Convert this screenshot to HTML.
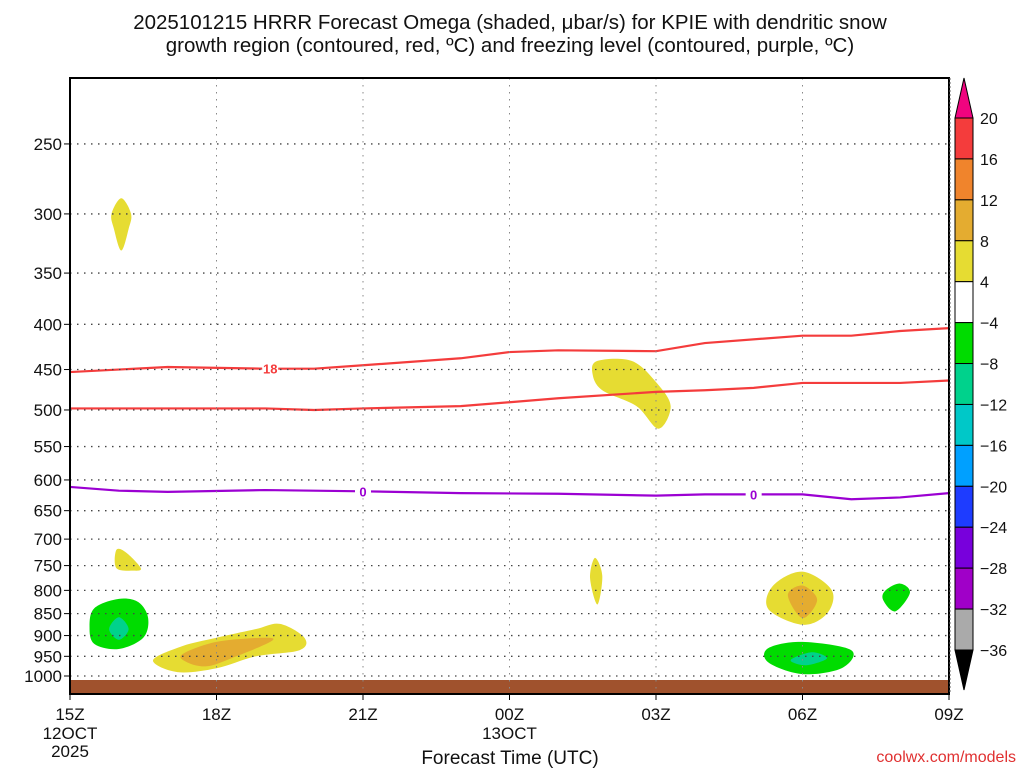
<!DOCTYPE html>
<html><head><meta charset="utf-8"><style>
body{margin:0;background:#fff;width:1024px;height:768px;overflow:hidden;font-family:"Liberation Sans","DejaVu Sans",sans-serif}
svg text{font-family:"Liberation Sans","DejaVu Sans",sans-serif;fill:#111}
</style></head><body>
<svg id="c" width="1024" height="768" xmlns="http://www.w3.org/2000/svg">
<text x="510" y="29" font-size="20.5" text-anchor="middle">2025101215 HRRR Forecast Omega (shaded, μbar/s) for KPIE with dendritic snow</text>
<text x="510" y="52" font-size="20.5" text-anchor="middle">growth region (contoured, red, ºC) and freezing level (contoured, purple, ºC)</text>
<text x="510" y="764" font-size="19" text-anchor="middle">Forecast Time (UTC)</text>
<text x="1016" y="762" font-size="16" text-anchor="end" style="fill:#e03030">coolwx.com/models</text>
<g id="plot"></g>
</svg>
<script>
const pTicks=[250,300,350,400,450,500,550,600,650,700,750,800,850,900,950,1000];
const xHours=[0,3,6,9,12,15,18];
const xLabels=["15Z","18Z","21Z","00Z","03Z","06Z","09Z"];
const cbLevels=[20,16,12,8,4,-4,-8,-12,-16,-20,-24,-28,-32,-36];
const cbColors=["#f43c3c","#f0842c","#e4ac30","#e6dc32","#ffffff","#00dc00","#00d28c","#00c8c8","#00a0ff","#1e3cff","#7800dc","#a000c8","#aaaaaa"];
const red1H=[0,2,4,5,6,8,9,10,12,13,15,16,17,18];
const red1P=[453,447,449,449,445,437,430,428,429,420,412,412,407,404];
const red2H=[0,2,4,5,6,8,9,10,12,13,14,15,17,18];
const red2P=[498,498,498,500,498,495,490,485,477,475,472,466,466,463];
const frzH=[0,1,2,4,6,8,10,12,13,15,16,17,18];
const frzP=[611,617,619,616,618,621,622,625,623,623,631,628,621];
const blobs=[
 {c:3,h:[1.05,1.25,1.2,1.05,0.9,0.85],p:[288,300,312,330,312,300]},
 {c:3,h:[0.95,1.15,1.45,1.3,0.95],p:[720,725,755,760,755]},
 {c:5,h:[0.5,1.0,1.4,1.6,1.5,1.0,0.5,0.4],p:[838,818,825,860,905,932,920,880]},
 {c:6,h:[1.0,1.2,1.0,0.8],p:[858,885,910,885]},
 {c:3,h:[1.7,2.3,3.0,3.8,4.3,4.8,4.7,3.8,3.0,2.2],p:[960,925,905,885,873,905,935,950,980,990]},
 {c:2,h:[2.3,3.0,4.0,4.1,3.3,2.8,2.4],p:[945,915,905,915,955,975,965]},
 {c:3,h:[10.8,11.5,12.0,12.3,12.05,11.6,10.9,10.7],p:[440,440,465,495,525,495,475,455]},
 {c:3,h:[10.75,10.9,10.8,10.65],p:[735,770,830,775]},
 {c:3,h:[14.4,15.0,15.6,15.5,15.0,14.3],p:[790,762,800,850,875,840]},
 {c:2,h:[14.7,15.0,15.3,15.0],p:[810,790,820,860]},
 {c:5,h:[16.7,17.0,17.2,16.9,16.65],p:[800,786,805,845,820]},
 {c:5,h:[14.3,15.0,16.0,15.8,15.0,14.3],p:[930,915,935,980,995,965]},
 {c:6,h:[14.8,15.2,15.5,15.1,14.8],p:[955,940,955,972,965]}
];
const X0=70,X1=949,Y1000=676,K=383.8,TOP=78,BOT=694;
const xs=h=>X0+h*(X1-X0)/18;
const ys=p=>Y1000-K*Math.log(1000/p);
const NS="http://www.w3.org/2000/svg";
const g=document.getElementById('plot');
function mk(t,a,parent){const e=document.createElementNS(NS,t);for(const k in a)e.setAttribute(k,a[k]);(parent||g).appendChild(e);return e;}
const clip=mk('clipPath',{id:'pc'});mk('rect',{x:X0,y:TOP,width:X1-X0,height:BOT-TOP},clip);
const shade=mk('g',{'clip-path':'url(#pc)'});


function smooth(pts){const n=pts.length;let d='M'+pts[0][0]+','+pts[0][1];
 for(let i=0;i<n;i++){const p0=pts[(i-1+n)%n],p1=pts[i],p2=pts[(i+1)%n],p3=pts[(i+2)%n];
  const c1=[p1[0]+(p2[0]-p0[0])/6,p1[1]+(p2[1]-p0[1])/6],c2=[p2[0]-(p3[0]-p1[0])/6,p2[1]-(p3[1]-p1[1])/6];
  d+=` C${c1[0]},${c1[1]} ${c2[0]},${c2[1]} ${p2[0]},${p2[1]}`;}return d+'Z';}
blobs.forEach(b=>{const pts=b.h.map((h,i)=>[xs(h),ys(b.p[i])]);
 const e=mk('path',{d:smooth(pts),fill:cbColors[b.c]},shade);
 
 });
const gr=mk('rect',{x:X0,y:680,width:X1-X0,height:14,fill:'#a0522d'});


pTicks.forEach(p=>{const y=ys(p);
 const l=mk('line',{x1:X0,x2:X1,y1:y,y2:y,stroke:'#444','stroke-dasharray':'1.5 5.5','stroke-width':1.3});
 
 
 mk('line',{x1:X0-6,x2:X0,y1:y,y2:y,stroke:'#000'});
 const t=mk('text',{x:X0-8,y:y+6,'font-size':17,'text-anchor':'end'});t.textContent=p;
 
 });
xHours.forEach((h,i)=>{const x=xs(h);
 if(i>0&&i<6){const l=mk('line',{x1:x,x2:x,y1:TOP,y2:BOT,stroke:'#888','stroke-dasharray':'1.5 5.5'});}
 mk('line',{x1:x,x2:x,y1:BOT,y2:BOT+6,stroke:'#000'});
 const t=mk('text',{x:x,y:720,'font-size':17,'text-anchor':'middle'});t.textContent=xLabels[i];
 
 });
[["12OCT",739],["2025",757]].forEach(a=>{const t=mk('text',{x:xs(0),y:a[1],'font-size':17,'text-anchor':'middle'});t.textContent=a[0];});
{const t=mk('text',{x:xs(9),y:739,'font-size':17,'text-anchor':'middle'});t.textContent="13OCT";}
function line(H,P,col,name){const d=H.map((h,i)=>(i?'L':'M')+xs(h)+','+ys(P[i])).join(' ');
 const e=mk('path',{d:d,fill:'none',stroke:col,'stroke-width':2.2},shade);
 
 }
line(red1H,red1P,'#f43c3c','dgz-contour-upper');
line(red2H,red2P,'#f43c3c','dgz-contour-lower');
line(frzH,frzP,'#9b00d2','freezing-level-contour');
function lab(h,p,txt,col){const x=xs(h),y=ys(p);mk('rect',{x:x-8,y:y-8,width:16,height:15,fill:'#fff'});
 const t=mk('text',{x:x,y:y+5,'font-size':13,'font-weight':'bold','text-anchor':'middle',style:'fill:'+col});t.textContent=txt;
 
 }
lab(4.1,449,'18','#f43c3c');lab(6,618,'0','#9b00d2');lab(14,623,'0','#9b00d2');
const fr=mk('rect',{x:X0,y:TOP,width:X1-X0,height:BOT-TOP,fill:'none',stroke:'#000','stroke-width':2});


mk('line',{x1:X1+1,x2:X1+1,y1:TOP,y2:BOT,stroke:'#666','stroke-dasharray':'2 2'});
const cb=mk('g',{});


const CX=955,CW=18,CT=118,STEP=(650-118)/13;
mk('path',{d:`M${CX},${CT} L${CX+CW/2},78 L${CX+CW},${CT}Z`,fill:'#f0047f',stroke:'#000'},cb);
cbColors.forEach((c,i)=>mk('rect',{x:CX,y:CT+i*STEP,width:CW,height:STEP,fill:c,stroke:'#000'},cb));
mk('path',{d:`M${CX},650 L${CX+CW/2},690 L${CX+CW},650Z`,fill:'#000',stroke:'#000'},cb);
cbLevels.forEach((v,i)=>{const t=mk('text',{x:CX+CW+7,y:CT+i*STEP+6,'font-size':16},cb);t.textContent=v<0?'\u2212'+(-v):v;
 
 });
</script>
</body></html>
